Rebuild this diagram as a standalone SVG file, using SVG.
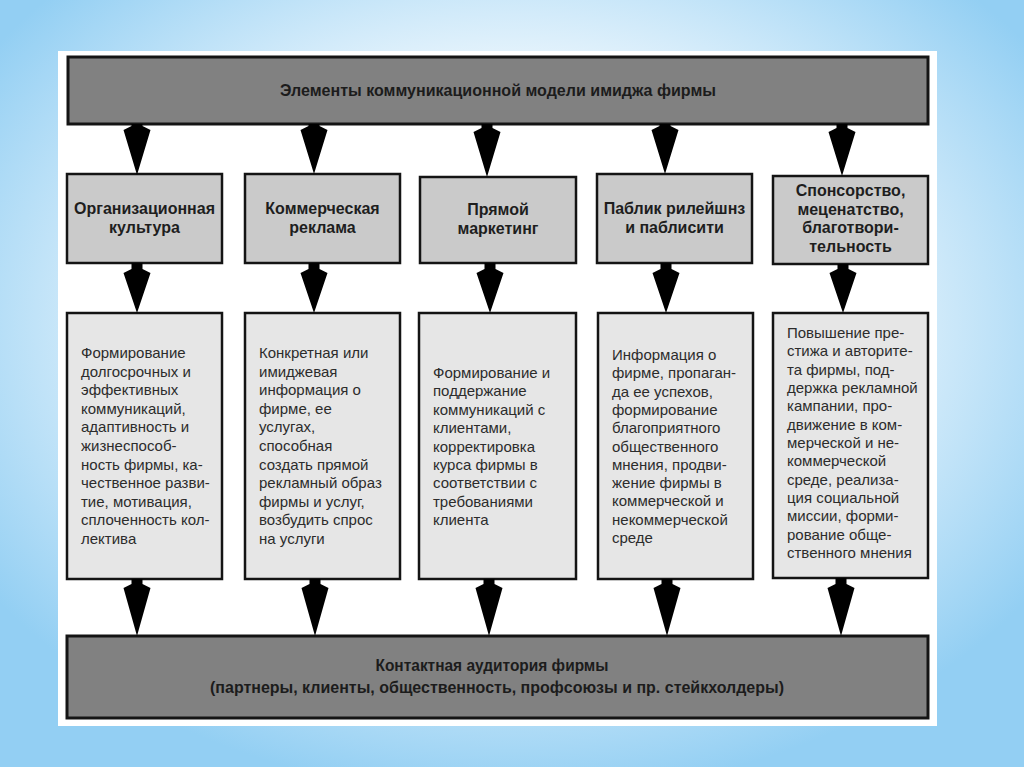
<svg xmlns="http://www.w3.org/2000/svg" width="1024" height="767" viewBox="0 0 1024 767">
<defs>
<radialGradient id="bg" cx="50%" cy="42%" r="62%">
<stop offset="0" stop-color="#ffffff"/>
<stop offset="0.5" stop-color="#eef7fd"/>
<stop offset="1" stop-color="#93cff3"/>
</radialGradient>
<style>
.dark{fill:#818181;stroke:#141414;stroke-width:3}
.mid{fill:#cacaca;stroke:#141414;stroke-width:2.5}
.light{fill:#e6e6e6;stroke:#141414;stroke-width:2.5}
.arr{fill:#000}
.hdr{font-family:"Liberation Sans Narrow","Liberation Sans",Arial,sans-serif;font-weight:bold;font-size:16px;fill:#1c1c1c;text-anchor:middle}
.ttl{font-family:"Liberation Sans",Arial,sans-serif;font-weight:bold;font-size:16px;fill:#1e1e1e;text-anchor:middle}
.body{font-family:"Liberation Sans",Arial,sans-serif;font-size:15px;fill:#2c2c2c}
</style>
</defs>
<rect width="1024" height="767" fill="url(#bg)"/>
<rect x="58" y="51" width="879" height="675" fill="#ffffff"/>

<g id="top">
<rect class="dark" x="68" y="57" width="860" height="67"/>
<text class="hdr" x="498" y="96" textLength="436" lengthAdjust="spacingAndGlyphs">Элементы коммуникационной модели имиджа фирмы</text>
</g>

<g id="t1">
<rect class="mid" x="67" y="174" width="155" height="89"/>
<text class="ttl" x="144.5" y="214">Организационная</text>
<text class="ttl" x="144.5" y="233">культура</text>
</g>
<g id="t2">
<rect class="mid" x="245" y="174" width="155" height="89"/>
<text class="ttl" x="322.5" y="214">Коммерческая</text>
<text class="ttl" x="322.5" y="233">реклама</text>
</g>
<g id="t3">
<rect class="mid" x="420" y="177" width="156" height="86"/>
<text class="ttl" x="498" y="215">Прямой</text>
<text class="ttl" x="498" y="234">маркетинг</text>
</g>
<g id="t4">
<rect class="mid" x="597" y="174" width="155" height="89"/>
<text class="ttl" x="674.5" y="214">Паблик рилейшнз</text>
<text class="ttl" x="674.5" y="233">и паблисити</text>
</g>
<g id="t5">
<rect class="mid" x="773" y="176" width="155" height="88"/>
<text class="ttl" x="850.5" y="196">Спонсорство,</text>
<text class="ttl" x="850.5" y="214.5">меценатство,</text>
<text class="ttl" x="850.5" y="233">благотвори-</text>
<text class="ttl" x="850.5" y="251.5">тельность</text>
</g>

<g id="d1">
<rect class="light" x="67" y="313" width="155" height="266"/>
<text class="body" x="81" y="358">
<tspan x="81">Формирование</tspan>
<tspan x="81" dy="18.6">долгосрочных и</tspan>
<tspan x="81" dy="18.6">эффективных</tspan>
<tspan x="81" dy="18.6">коммуникаций,</tspan>
<tspan x="81" dy="18.6">адаптивность и</tspan>
<tspan x="81" dy="18.6">жизнеспособ-</tspan>
<tspan x="81" dy="18.6">ность фирмы, ка-</tspan>
<tspan x="81" dy="18.6">чественное разви-</tspan>
<tspan x="81" dy="18.6">тие, мотивация,</tspan>
<tspan x="81" dy="18.6">сплоченность кол-</tspan>
<tspan x="81" dy="18.6">лектива</tspan>
</text>
</g>
<g id="d2">
<rect class="light" x="245" y="313" width="155" height="266"/>
<text class="body" x="259" y="358">
<tspan x="259">Конкретная или</tspan>
<tspan x="259" dy="18.6">имиджевая</tspan>
<tspan x="259" dy="18.6">информация о</tspan>
<tspan x="259" dy="18.6">фирме, ее</tspan>
<tspan x="259" dy="18.6">услугах,</tspan>
<tspan x="259" dy="18.6">способная</tspan>
<tspan x="259" dy="18.6">создать прямой</tspan>
<tspan x="259" dy="18.6">рекламный образ</tspan>
<tspan x="259" dy="18.6">фирмы и услуг,</tspan>
<tspan x="259" dy="18.6">возбудить спрос</tspan>
<tspan x="259" dy="18.6">на услуги</tspan>
</text>
</g>
<g id="d3">
<rect class="light" x="419" y="313" width="157" height="266"/>
<text class="body" x="433" y="378">
<tspan x="433">Формирование и</tspan>
<tspan x="433" dy="18.4">поддержание</tspan>
<tspan x="433" dy="18.4">коммуникаций с</tspan>
<tspan x="433" dy="18.4">клиентами,</tspan>
<tspan x="433" dy="18.4">корректировка</tspan>
<tspan x="433" dy="18.4">курса фирмы в</tspan>
<tspan x="433" dy="18.4">соответствии с</tspan>
<tspan x="433" dy="18.4">требованиями</tspan>
<tspan x="433" dy="18.4">клиента</tspan>
</text>
</g>
<g id="d4">
<rect class="light" x="598" y="313" width="155" height="266"/>
<text class="body" x="612" y="360">
<tspan x="612">Информация о</tspan>
<tspan x="612" dy="18.3">фирме, пропаган-</tspan>
<tspan x="612" dy="18.3">да ее успехов,</tspan>
<tspan x="612" dy="18.3">формирование</tspan>
<tspan x="612" dy="18.3">благоприятного</tspan>
<tspan x="612" dy="18.3">общественного</tspan>
<tspan x="612" dy="18.3">мнения, продви-</tspan>
<tspan x="612" dy="18.3">жение фирмы в</tspan>
<tspan x="612" dy="18.3">коммерческой и</tspan>
<tspan x="612" dy="18.3">некоммерческой</tspan>
<tspan x="612" dy="18.3">среде</tspan>
</text>
</g>
<g id="d5">
<rect class="light" x="773" y="313" width="155" height="265"/>
<text class="body" x="787" y="338">
<tspan x="787">Повышение пре-</tspan>
<tspan x="787" dy="18.33">стижа и авторите-</tspan>
<tspan x="787" dy="18.33">та фирмы, под-</tspan>
<tspan x="787" dy="18.33">держка рекламной</tspan>
<tspan x="787" dy="18.33">кампании, про-</tspan>
<tspan x="787" dy="18.33">движение в ком-</tspan>
<tspan x="787" dy="18.33">мерческой и не-</tspan>
<tspan x="787" dy="18.33">коммерческой</tspan>
<tspan x="787" dy="18.33">среде, реализа-</tspan>
<tspan x="787" dy="18.33">ция социальной</tspan>
<tspan x="787" dy="18.33">миссии, форми-</tspan>
<tspan x="787" dy="18.33">рование обще-</tspan>
<tspan x="787" dy="18.33">ственного мнения</tspan>
</text>
</g>

<g id="bottom">
<rect class="dark" x="67" y="636" width="861" height="82"/>
<text class="hdr" x="492" y="671" textLength="233" lengthAdjust="spacingAndGlyphs">Контактная аудитория фирмы</text>
<text class="hdr" x="497" y="693" textLength="574" lengthAdjust="spacingAndGlyphs">(партнеры, клиенты, общественность, профсоюзы и пр. стейкхолдеры)</text>
</g>

<g id="connectors">
<path class="arr" d="M131.5,124H142.5V126L150.5,130L137,175L123.5,130L131.5,126Z"/>
<path class="arr" d="M308.5,124H319.5V126L327.5,130L314,174L300.5,130L308.5,126Z"/>
<path class="arr" d="M481.5,124H492.5V128L500.5,132L487,177L473.5,132L481.5,128Z"/>
<path class="arr" d="M659.5,124H670.5V126L678.5,130L665,174L651.5,130L659.5,126Z"/>
<path class="arr" d="M836.5,124H847.5V128L855.5,132L842,176L828.5,132L836.5,128Z"/>

<path class="arr" d="M131.5,263H142.5V269L150.5,273L137,313L123.5,273L131.5,269Z"/>
<path class="arr" d="M308.5,263H319.5V269L327.5,273L314,313L300.5,273L308.5,269Z"/>
<path class="arr" d="M484.5,263H495.5V269L503.5,273L490,313L476.5,273L484.5,269Z"/>
<path class="arr" d="M660.5,263H671.5V269L679.5,273L666,313L652.5,273L660.5,269Z"/>
<path class="arr" d="M837.5,264H848.5V269L856.5,273L843,313L829.5,273L837.5,269Z"/>

<path class="arr" d="M131.5,579H142.5V584L150.5,588L137,636L123.5,588L131.5,584Z"/>
<path class="arr" d="M309.5,579H320.5V584L328.5,588L315,636L301.5,588L309.5,584Z"/>
<path class="arr" d="M483.5,579H494.5V584L502.5,588L489,636L475.5,588L483.5,584Z"/>
<path class="arr" d="M661.5,579H672.5V584L680.5,588L667,636L653.5,588L661.5,584Z"/>
<path class="arr" d="M835.5,578H846.5V584L854.5,588L841,636L827.5,588L835.5,584Z"/>
</g>
</svg>
